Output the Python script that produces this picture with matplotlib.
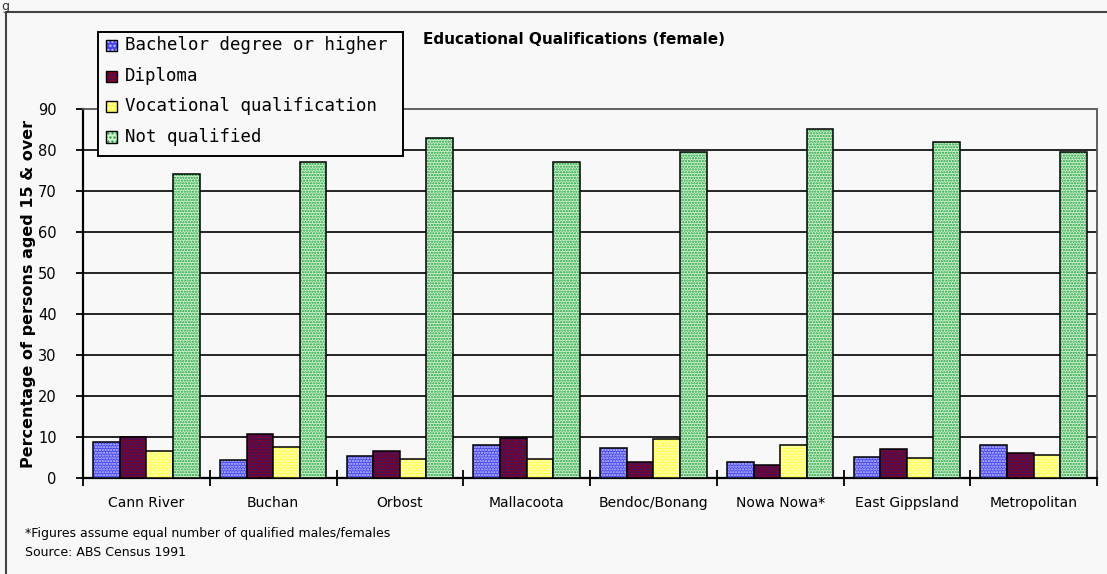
import matplotlib
matplotlib.use("Agg")
import matplotlib.pyplot as plt
from matplotlib.patches import Rectangle
from matplotlib.lines import Line2D
import numpy as np

# ---- data -------------------------------------------------------------
categories = ["Cann River", "Buchan", "Orbost", "Mallacoota", "Bendoc/Bonang",
              "Nowa Nowa*", "East Gippsland", "Metropolitan"]
series_names = ["Bachelor degree or higher", "Diploma",
                "Vocational qualification", "Not qualified"]
bachelor = [8.7, 4.3, 5.3, 8.0, 7.2, 3.8, 5.2, 8.0]
diploma = [9.9, 10.7, 6.7, 9.7, 3.8, 3.2, 7.1, 6.2]
vocational = [6.6, 7.6, 4.6, 4.6, 9.4, 8.0, 5.0, 5.6]
not_qualified = [74.1, 77.0, 83.0, 77.0, 79.6, 85.0, 81.9, 79.6]
y_ticks = [0, 10, 20, 30, 40, 50, 60, 70, 80, 90]
title = "Educational Qualifications (female)"
y_label = "Percentage of persons aged 15 & over"
footnote = "*Figures assume equal number of qualified males/females"
source = "Source: ABS Census 1991"

# ---- styling ----------------------------------------------------------
W, H = 1107, 574
BG = "#f8f8f8"
# (face colour, dot colour) for each series
styles = [("#4444f0", "#c8c8ff"),
          ("#880022", "#1c1c78"),
          ("#ffff3c", "#fffff0"),
          ("#d2f2d2", "#18a038")]
HATCH = "......"

plt.rcParams["font.family"] = ["DejaVu Sans"]
plt.rcParams["hatch.linewidth"] = 1.1

fig = plt.figure(figsize=(W / 100, H / 100), dpi=100, facecolor=BG)


def fx(px):
    return px / W


def fy(py):
    return 1 - py / H


ax = fig.add_axes([fx(83), fy(478), fx(1097) - fx(83), fy(109) - fy(478)])
ax.set_facecolor(BG)

values = [bachelor, diploma, vocational, not_qualified]
n = len(categories)
centers = np.arange(n) + 0.5
bw = 0.21
offsets = (np.arange(4) - 1.5) * bw


def styled_bar(axis, x, h, width, face, dot, z):
    axis.bar(x, h, width, color=face, linewidth=0, zorder=z)
    axis.bar(x, h, width, fill=False, hatch=HATCH, edgecolor=dot,
             linewidth=0, zorder=z + 0.1)
    axis.bar(x, h, width, fill=False, edgecolor="black", linewidth=1.1,
             zorder=z + 0.2)


for k, (vals, (face, dot)) in enumerate(zip(values, styles)):
    styled_bar(ax, centers + offsets[k], vals, bw, face, dot, 3 + k)

ax.set_xlim(0, n)
ax.set_ylim(0, 90)

# grid lines
for yv in y_ticks[1:-1]:
    ax.axhline(yv, color="black", linewidth=1.2, zorder=1)

# spines
for s in ("left", "bottom"):
    ax.spines[s].set_linewidth(1.6)
    ax.spines[s].set_color("black")
for s in ("top", "right"):
    ax.spines[s].set_linestyle((0, (1, 1)))
    ax.spines[s].set_linewidth(1.3)
    ax.spines[s].set_color("#555555")

ax.set_yticks(y_ticks)
ax.set_yticklabels([str(v) for v in y_ticks], fontsize=10.5)
ax.tick_params(axis="y", direction="out", length=5, width=1.3, pad=14)

ax.set_xticks(np.arange(n + 1))
ax.set_xticklabels([])
ax.tick_params(axis="x", which="major", direction="inout", length=11, width=1.3)
ax.set_xticks(centers, minor=True)
ax.set_xticklabels(categories, minor=True, fontsize=10)
ax.tick_params(axis="x", which="minor", length=0, pad=13)

ax.set_ylabel(y_label, fontsize=11.5, fontweight="bold")
ax.yaxis.set_label_coords(-0.046, 0.5)

# title
fig.text(fx(423), fy(40), title, fontsize=11, fontweight="bold",
         ha="left", va="center")

# legend box drawn on top of the plot area
lx0, ly0, lx1, ly1 = 98, 32, 403, 156
fig.add_artist(Rectangle((fx(lx0), fy(ly1)), fx(lx1) - fx(lx0), fy(ly0) - fy(ly1),
                         transform=fig.transFigure, facecolor=BG,
                         edgecolor="black", linewidth=1.4, zorder=10))
rows = [45, 76, 106, 137]
sw = 11
for name, (face, dot), ry in zip(series_names, styles, rows):
    xy = (fx(106), fy(ry + sw / 2))
    wd, ht = fx(106 + sw) - fx(106), fy(ry - sw / 2) - fy(ry + sw / 2)
    fig.add_artist(Rectangle(xy, wd, ht, transform=fig.transFigure,
                             facecolor=face, linewidth=0, zorder=11))
    fig.add_artist(Rectangle(xy, wd, ht, transform=fig.transFigure, fill=False,
                             hatch="....", edgecolor=dot, linewidth=0, zorder=11.1))
    fig.add_artist(Rectangle(xy, wd, ht, transform=fig.transFigure, fill=False,
                             edgecolor="black", linewidth=1.0, zorder=11.2))
    fig.text(fx(125), fy(ry), name, fontsize=12.5, family="DejaVu Sans Mono",
             ha="left", va="center", zorder=12)

# notes under the chart
fig.text(fx(25), fy(533), footnote, fontsize=9, ha="left", va="center")
fig.text(fx(25), fy(552), source, fontsize=9, ha="left", va="center")

# outer frame (top and left edges)
fig.add_artist(Line2D([fx(6), fx(6), 1.0], [0.0, fy(12), fy(12)],
                      transform=fig.transFigure, color="#444444", linewidth=1.5))
# trailing glyph of the caption line above the frame
fig.text(fx(1), fy(0), "g", fontsize=9, ha="left", va="top",
         color="#333333")

fig.savefig("out.png", dpi=100, facecolor=BG)
